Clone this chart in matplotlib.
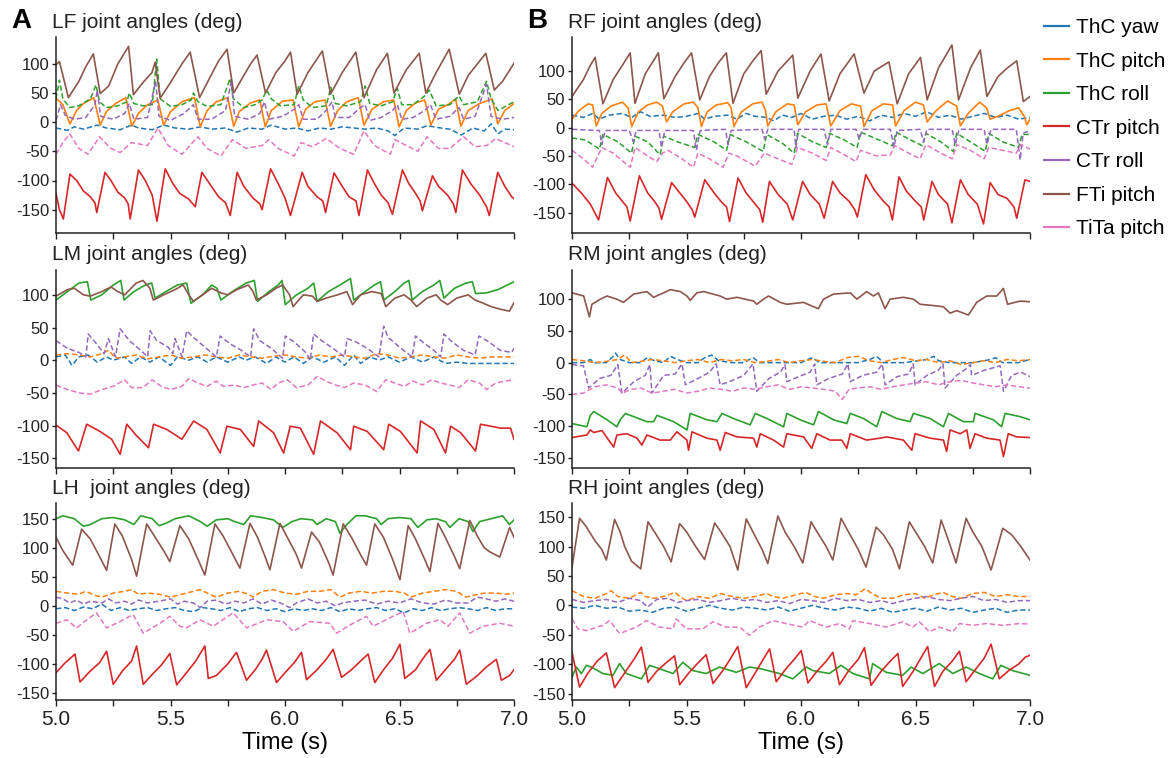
import numpy as np
import matplotlib.pyplot as plt
from matplotlib.lines import Line2D

plt.rcParams['font.family'] = ['Liberation Sans', 'DejaVu Sans']
plt.rcParams['axes.unicode_minus'] = False

names = ['ThC yaw', 'ThC pitch', 'ThC roll', 'CTr pitch', 'CTr roll', 'FTi pitch', 'TiTa pitch']
colors = ['#1f77b4', '#ff7f0e', '#2ca02c', '#d62728', '#9467bd', '#8c564b', '#e377c2']

# ---------------- LF (time s, angle deg) ----------------
lf_thc_yaw = [(5.0,-10),(5.05,-14),(5.08,-8),(5.12,-12),(5.18,-5),(5.22,-10),(5.28,-13),(5.33,-5),(5.36,-10),(5.42,-13),(5.47,-5),(5.52,-10),(5.58,-12),(5.63,-8),(5.68,-12),(5.74,-10),(5.79,-17),(5.84,-10),(5.90,-12),(5.94,-5),(6.0,-12),(6.05,-10),(6.10,-15),(6.15,-10),(6.2,-12),(6.25,-8),(6.30,-10),(6.35,-12),(6.40,-10),(6.45,-15),(6.48,-23),(6.52,-10),(6.58,-12),(6.62,-6),(6.68,-10),(6.72,-12),(6.77,-22),(6.82,-10),(6.87,-15),(6.90,-3),(6.93,-20),(6.96,-12),(7.0,-13)]
lf_thc_pitch = [(5.0,41),(5.03,30),(5.061,-3),(5.09,20),(5.12,32),(5.165,42),(5.193,-5),(5.22,18),(5.26,32),(5.305,42),(5.331,-7),(5.36,15),(5.40,30),(5.445,38),(5.470,-5),(5.50,18),(5.55,35),(5.605,42),(5.630,-8),(5.66,20),(5.70,35),(5.750,42),(5.776,-7),(5.80,18),(5.85,33),(5.89,38),(5.914,-8),(5.94,20),(5.99,36),(6.035,38),(6.060,-8),(6.09,22),(6.13,35),(6.175,38),(6.199,-7),(6.23,20),(6.27,35),(6.32,42),(6.345,-5),(6.38,22),(6.43,35),(6.475,38),(6.498,-8),(6.53,20),(6.57,33),(6.61,38),(6.637,-5),(6.67,22),(6.72,32),(6.745,40),(6.768,-7),(6.80,20),(6.85,32),(6.905,40),(6.929,-3),(6.96,20),(7.0,32)]
lf_thc_roll = [(5.0,40),(5.015,72),(5.03,40),(5.06,25),(5.10,28),(5.15,40),(5.175,64),(5.19,35),(5.22,25),(5.27,28),(5.31,35),(5.32,50),(5.34,32),(5.38,28),(5.42,30),(5.44,108),(5.455,40),(5.50,27),(5.55,30),(5.59,38),(5.60,50),(5.62,35),(5.66,27),(5.72,30),(5.76,75),(5.775,40),(5.82,25),(5.87,30),(5.90,38),(5.92,55),(5.94,40),(5.98,28),(6.04,30),(6.06,62),(6.08,38),(6.12,25),(6.18,28),(6.20,60),(6.22,32),(6.27,28),(6.33,35),(6.35,62),(6.37,32),(6.42,28),(6.47,35),(6.49,58),(6.51,30),(6.56,30),(6.61,45),(6.63,55),(6.66,28),(6.72,30),(6.76,45),(6.78,30),(6.84,35),(6.88,70),(6.90,40),(6.93,20),(7.0,35)]
lf_ctr_pitch = [(5.0,-122),(5.015,-150),(5.032,-166),(5.061,-89),(5.09,-100),(5.12,-118),(5.15,-128),(5.17,-138),(5.178,-155),(5.214,-86),(5.24,-100),(5.27,-120),(5.30,-130),(5.315,-140),(5.324,-166),(5.360,-82),(5.39,-100),(5.42,-125),(5.441,-170),(5.477,-80),(5.51,-105),(5.54,-122),(5.58,-132),(5.608,-145),(5.637,-86),(5.67,-105),(5.71,-128),(5.74,-138),(5.761,-160),(5.791,-86),(5.82,-110),(5.86,-130),(5.89,-140),(5.900,-150),(5.937,-80),(5.97,-105),(6.00,-130),(6.024,-160),(6.075,-86),(6.10,-110),(6.14,-128),(6.165,-135),(6.177,-155),(6.214,-87),(6.25,-110),(6.28,-128),(6.31,-135),(6.323,-160),(6.360,-82),(6.39,-105),(6.42,-125),(6.45,-138),(6.469,-158),(6.513,-82),(6.54,-105),(6.57,-122),(6.59,-135),(6.600,-152),(6.644,-92),(6.67,-110),(6.71,-125),(6.735,-140),(6.746,-155),(6.775,-82),(6.81,-105),(6.85,-125),(6.88,-145),(6.892,-160),(6.929,-86),(6.96,-110),(6.99,-128),(7.0,-131)]
lf_ctr_roll = [(5.0,3),(5.02,30),(5.04,12),(5.08,5),(5.13,8),(5.17,30),(5.18,55),(5.195,10),(5.25,5),(5.30,15),(5.32,32),(5.34,5),(5.40,8),(5.435,70),(5.45,10),(5.50,3),(5.56,15),(5.60,30),(5.62,5),(5.68,5),(5.74,20),(5.765,70),(5.78,10),(5.84,5),(5.89,15),(5.91,35),(5.93,5),(5.99,10),(6.04,22),(6.06,30),(6.08,5),(6.14,5),(6.18,20),(6.205,35),(6.22,8),(6.28,8),(6.33,25),(6.35,30),(6.37,3),(6.42,8),(6.47,20),(6.49,30),(6.51,5),(6.56,8),(6.61,20),(6.635,30),(6.66,5),(6.72,10),(6.76,25),(6.78,5),(6.83,10),(6.88,65),(6.90,10),(6.95,5),(7.0,8)]
lf_fti_pitch = [(5.0,98),(5.015,104),(5.054,42),(5.10,70),(5.13,95),(5.163,117),(5.193,49),(5.23,62),(5.27,100),(5.317,130),(5.338,47),(5.38,68),(5.419,85),(5.433,103),(5.455,41),(5.50,68),(5.55,100),(5.586,120),(5.627,42),(5.67,75),(5.71,105),(5.747,125),(5.776,50),(5.82,80),(5.85,100),(5.878,115),(5.915,50),(5.96,85),(6.0,105),(6.024,120),(6.053,48),(6.10,85),(6.163,122),(6.199,48),(6.25,85),(6.309,120),(6.345,42),(6.40,90),(6.447,118),(6.476,50),(6.53,90),(6.586,118),(6.615,50),(6.66,85),(6.717,125),(6.761,48),(6.80,80),(6.84,100),(6.877,118),(6.914,55),(6.95,70),(7.0,101)]
lf_tita_pitch = [(5.0,-55),(5.03,-35),(5.06,-20),(5.10,-45),(5.14,-55),(5.19,-25),(5.24,-45),(5.28,-52),(5.33,-35),(5.40,-40),(5.445,-10),(5.49,-40),(5.55,-55),(5.62,-25),(5.66,-45),(5.72,-58),(5.77,-30),(5.83,-45),(5.90,-40),(5.93,-30),(5.97,-45),(6.04,-58),(6.07,-35),(6.12,-42),(6.18,-28),(6.24,-45),(6.30,-55),(6.345,-15),(6.39,-40),(6.46,-55),(6.48,-30),(6.53,-40),(6.58,-50),(6.62,-25),(6.67,-45),(6.72,-45),(6.78,-25),(6.83,-42),(6.88,-40),(6.92,-28),(6.96,-35),(7.0,-42)]

# ---------------- RF ----------------
rf_thc_yaw = [(5.0,22),(5.05,18),(5.09,25),(5.12,15),(5.16,22),(5.22,25),(5.26,18),(5.30,28),(5.34,20),(5.40,22),(5.45,18),(5.50,20),(5.55,25),(5.58,15),(5.62,20),(5.68,22),(5.72,15),(5.76,25),(5.80,20),(5.85,18),(5.88,12),(5.92,22),(5.96,18),(6.00,25),(6.05,15),(6.10,20),(6.15,22),(6.20,15),(6.25,20),(6.30,12),(6.35,22),(6.40,18),(6.45,25),(6.50,20),(6.55,28),(6.60,18),(6.65,22),(6.70,15),(6.75,20),(6.80,25),(6.85,18),(6.90,22),(6.95,15),(7.0,18)]
rf_thc_pitch = [(5.0,15),(5.03,30),(5.07,42),(5.09,40),(5.106,3),(5.13,25),(5.17,38),(5.22,45),(5.245,35),(5.261,2),(5.29,28),(5.33,40),(5.37,45),(5.395,38),(5.413,10),(5.44,28),(5.49,42),(5.53,45),(5.55,35),(5.565,2),(5.59,28),(5.63,40),(5.68,44),(5.695,35),(5.707,2),(5.74,28),(5.79,42),(5.83,45),(5.845,30),(5.855,3),(5.89,28),(5.94,42),(5.97,40),(5.986,5),(6.02,28),(6.07,40),(6.11,42),(6.13,3),(6.17,30),(6.22,42),(6.26,38),(6.275,2),(6.31,30),(6.36,42),(6.40,40),(6.413,3),(6.45,30),(6.50,45),(6.535,40),(6.551,10),(6.59,30),(6.64,47),(6.68,38),(6.696,3),(6.73,25),(6.78,45),(6.81,35),(6.826,15),(6.86,20),(6.91,30),(6.95,35),(6.975,20),(6.986,5),(7.0,15)]
rf_thc_roll = [(5.0,-18),(5.06,-22),(5.12,-38),(5.135,-12),(5.20,-25),(5.26,-45),(5.275,-15),(5.33,-25),(5.385,-48),(5.40,-15),(5.46,-25),(5.535,-35),(5.55,-12),(5.62,-25),(5.675,-40),(5.69,-12),(5.76,-25),(5.835,-42),(5.85,-12),(5.92,-28),(5.97,-45),(5.985,-10),(6.05,-25),(6.11,-35),(6.125,-10),(6.19,-22),(6.245,-35),(6.26,-8),(6.33,-20),(6.40,-32),(6.415,-8),(6.47,-20),(6.53,-32),(6.545,-10),(6.61,-25),(6.665,-42),(6.68,-10),(6.74,-25),(6.805,-42),(6.82,-10),(6.88,-25),(6.95,-35),(6.965,-12),(7.0,-12)]
rf_ctr_pitch = [(5.0,-98),(5.04,-115),(5.08,-135),(5.116,-163),(5.155,-88),(5.19,-115),(5.22,-130),(5.24,-140),(5.254,-165),(5.294,-85),(5.33,-115),(5.36,-130),(5.38,-142),(5.391,-162),(5.435,-97),(5.47,-115),(5.50,-130),(5.525,-145),(5.536,-158),(5.580,-92),(5.62,-115),(5.65,-130),(5.675,-140),(5.688,-166),(5.725,-89),(5.76,-115),(5.80,-135),(5.82,-145),(5.833,-167),(5.862,-95),(5.90,-118),(5.94,-135),(5.964,-163),(6.007,-95),(6.04,-118),(6.08,-135),(6.101,-160),(6.138,-95),(6.17,-115),(6.21,-130),(6.235,-145),(6.246,-158),(6.283,-83),(6.32,-110),(6.36,-130),(6.385,-140),(6.399,-163),(6.428,-87),(6.46,-112),(6.50,-130),(6.525,-140),(6.536,-163),(6.572,-95),(6.60,-118),(6.64,-135),(6.659,-168),(6.696,-92),(6.73,-118),(6.77,-135),(6.797,-170),(6.826,-97),(6.86,-118),(6.90,-125),(6.93,-140),(6.942,-160),(6.978,-92),(7.0,-95)]
rf_ctr_roll = [(5.0,-3),(5.12,-5),(5.13,-30),(5.145,-5),(5.25,-5),(5.268,-25),(5.28,-5),(5.38,-5),(5.391,-35),(5.405,-5),(5.53,-5),(5.543,-40),(5.56,-5),(5.67,-3),(5.681,-30),(5.695,-5),(5.83,-3),(5.841,-20),(5.855,-3),(5.97,-3),(5.978,-35),(5.99,-3),(6.10,-3),(6.116,-30),(6.13,-3),(6.24,-3),(6.254,-20),(6.27,-3),(6.39,-3),(6.406,-35),(6.42,-5),(6.52,-3),(6.536,-25),(6.55,-3),(6.66,-3),(6.674,-30),(6.69,-3),(6.80,-3),(6.812,-30),(6.83,-3),(6.94,-3),(6.957,-57),(6.97,-10),(7.0,-5)]
rf_fti_pitch = [(5.0,55),(5.05,85),(5.08,110),(5.101,124),(5.135,42),(5.18,85),(5.22,110),(5.254,132),(5.275,43),(5.32,95),(5.377,132),(5.401,51),(5.45,90),(5.49,115),(5.522,132),(5.558,49),(5.60,90),(5.64,115),(5.674,132),(5.703,43),(5.75,95),(5.79,118),(5.826,136),(5.848,59),(5.90,100),(5.964,128),(5.986,52),(6.04,100),(6.087,130),(6.123,47),(6.17,95),(6.232,130),(6.275,61),(6.32,100),(6.384,116),(6.420,42),(6.47,95),(6.522,124),(6.551,49),(6.60,105),(6.659,146),(6.688,49),(6.74,105),(6.783,137),(6.812,55),(6.86,90),(6.90,105),(6.942,118),(6.971,46),(7.0,55)]
rf_tita_pitch = [(5.0,-40),(5.05,-55),(5.09,-70),(5.13,-35),(5.18,-45),(5.23,-62),(5.255,-70),(5.275,-35),(5.33,-50),(5.37,-60),(5.395,-45),(5.42,-40),(5.48,-55),(5.53,-70),(5.55,-45),(5.60,-55),(5.66,-70),(5.685,-45),(5.72,-50),(5.80,-68),(5.84,-45),(5.90,-55),(5.96,-65),(5.985,-35),(6.05,-45),(6.11,-58),(6.13,-35),(6.19,-48),(6.24,-60),(6.26,-40),(6.33,-50),(6.39,-48),(6.41,-32),(6.47,-45),(6.52,-55),(6.545,-30),(6.61,-45),(6.66,-55),(6.68,-30),(6.74,-40),(6.80,-55),(6.82,-35),(6.88,-40),(6.94,-45),(6.96,-30),(7.0,-38)]

# ---------------- LM ----------------
lm_thc_yaw = [(5.0,5),(5.04,8),(5.07,-8),(5.10,5),(5.14,8),(5.18,-3),(5.22,5),(5.25,0),(5.30,5),(5.33,-5),(5.37,5),(5.41,-3),(5.45,5),(5.50,-8),(5.53,5),(5.58,0),(5.62,5),(5.66,-3),(5.70,5),(5.75,-3),(5.80,5),(5.83,0),(5.87,5),(5.92,-5),(5.96,5),(6.00,-3),(6.04,5),(6.08,-5),(6.12,5),(6.17,-3),(6.22,5),(6.26,-8),(6.30,8),(6.33,-5),(6.37,5),(6.41,0),(6.45,5),(6.50,-3),(6.55,5),(6.60,-3),(6.65,5),(6.70,-5),(6.75,-3),(6.80,-5),(6.85,-5),(6.90,-5),(6.95,-5),(7.0,-5)]
lm_thc_pitch = [(5.0,8),(5.05,10),(5.10,8),(5.15,5),(5.20,10),(5.23,15),(5.26,3),(5.30,5),(5.35,8),(5.40,2),(5.45,5),(5.50,8),(5.55,3),(5.60,5),(5.65,8),(5.70,5),(5.75,3),(5.80,8),(5.85,5),(5.90,3),(5.95,6),(6.00,8),(6.05,5),(6.10,3),(6.15,8),(6.20,5),(6.25,8),(6.30,5),(6.35,3),(6.40,10),(6.45,8),(6.50,3),(6.55,5),(6.60,8),(6.65,5),(6.70,3),(6.75,8),(6.80,5),(6.85,3),(6.90,5),(6.95,5),(7.0,5)]
lm_thc_roll = [(5.0,92),(5.05,105),(5.10,118),(5.137,120),(5.152,92),(5.20,100),(5.25,115),(5.283,122),(5.297,92),(5.34,105),(5.39,115),(5.418,118),(5.433,95),(5.48,105),(5.53,115),(5.571,118),(5.589,87),(5.64,100),(5.68,115),(5.703,110),(5.720,92),(5.77,105),(5.83,118),(5.866,122),(5.880,90),(5.93,105),(5.97,115),(5.987,122),(6.001,85),(6.05,100),(6.10,110),(6.125,118),(6.140,90),(6.19,105),(6.24,115),(6.286,125),(6.300,92),(6.35,105),(6.39,115),(6.417,120),(6.431,92),(6.48,105),(6.52,118),(6.541,122),(6.555,92),(6.60,105),(6.65,115),(6.676,122),(6.694,95),(6.74,110),(6.79,118),(6.818,120),(6.832,102),(6.88,103),(6.93,108),(7.0,120)]
lm_ctr_pitch = [(5.003,-100),(5.047,-111),(5.098,-139),(5.134,-98),(5.192,-109),(5.243,-121),(5.280,-144),(5.309,-98),(5.353,-116),(5.404,-134),(5.426,-98),(5.484,-106),(5.550,-121),(5.601,-93),(5.659,-106),(5.717,-142),(5.746,-101),(5.805,-106),(5.863,-132),(5.885,-93),(5.950,-111),(5.994,-142),(6.023,-101),(6.067,-104),(6.125,-144),(6.155,-93),(6.227,-111),(6.286,-137),(6.300,-101),(6.359,-109),(6.431,-137),(6.453,-98),(6.504,-109),(6.577,-142),(6.592,-93),(6.650,-106),(6.701,-142),(6.723,-101),(6.767,-111),(6.832,-139),(6.854,-98),(6.942,-104),(6.985,-104),(7.0,-121)]
lm_ctr_roll = [(5.0,30),(5.05,18),(5.10,12),(5.13,5),(5.141,40),(5.17,28),(5.21,10),(5.229,33),(5.26,5),(5.280,48),(5.32,30),(5.37,15),(5.40,5),(5.411,45),(5.44,30),(5.49,20),(5.51,10),(5.520,33),(5.55,5),(5.571,45),(5.60,35),(5.65,20),(5.70,5),(5.717,37),(5.76,25),(5.81,15),(5.85,5),(5.863,48),(5.89,30),(5.94,18),(5.99,3),(6.001,37),(6.04,28),(6.09,12),(6.11,0),(6.125,40),(6.16,30),(6.21,18),(6.26,5),(6.271,33),(6.31,28),(6.36,18),(6.41,5),(6.431,52),(6.45,35),(6.50,20),(6.555,5),(6.570,37),(6.60,28),(6.65,15),(6.68,5),(6.694,40),(6.73,28),(6.78,15),(6.83,8),(6.847,37),(6.89,28),(6.94,15),(6.99,12),(7.0,18)]
lm_fti_pitch = [(5.0,98),(5.05,108),(5.08,110),(5.12,100),(5.15,98),(5.20,105),(5.24,112),(5.27,105),(5.30,100),(5.35,118),(5.38,122),(5.41,110),(5.425,92),(5.47,100),(5.52,108),(5.555,115),(5.58,100),(5.60,90),(5.64,100),(5.68,110),(5.72,103),(5.75,100),(5.79,108),(5.84,115),(5.86,105),(5.875,92),(5.92,100),(5.96,110),(5.99,115),(6.02,100),(6.035,82),(6.08,100),(6.12,98),(6.14,90),(6.18,95),(6.23,100),(6.27,105),(6.295,85),(6.33,100),(6.38,105),(6.42,102),(6.44,82),(6.48,95),(6.52,100),(6.55,92),(6.575,82),(6.62,95),(6.66,100),(6.68,92),(6.71,85),(6.75,95),(6.80,100),(6.83,92),(6.86,88),(6.90,82),(6.94,78),(6.98,75),(7.0,88)]
lm_tita_pitch = [(5.0,-38),(5.05,-45),(5.10,-50),(5.15,-52),(5.20,-45),(5.25,-40),(5.30,-30),(5.33,-42),(5.38,-42),(5.42,-30),(5.46,-40),(5.50,-45),(5.55,-40),(5.58,-28),(5.62,-35),(5.66,-40),(5.70,-32),(5.73,-40),(5.78,-38),(5.82,-42),(5.86,-38),(5.90,-35),(5.94,-45),(5.97,-35),(6.01,-30),(6.05,-42),(6.10,-38),(6.14,-25),(6.18,-32),(6.22,-38),(6.26,-42),(6.30,-35),(6.35,-38),(6.40,-48),(6.44,-30),(6.48,-35),(6.52,-40),(6.56,-32),(6.60,-38),(6.64,-30),(6.68,-35),(6.72,-38),(6.76,-42),(6.80,-30),(6.85,-35),(6.88,-45),(6.92,-35),(6.96,-32),(7.0,-30)]

# ---------------- RM ----------------
rm_thc_yaw = [(5.0,0),(5.05,0),(5.08,5),(5.10,0),(5.15,0),(5.18,10),(5.19,15),(5.21,5),(5.25,0),(5.30,0),(5.33,8),(5.36,3),(5.40,0),(5.43,10),(5.46,5),(5.50,0),(5.55,0),(5.58,8),(5.61,12),(5.64,3),(5.70,0),(5.75,0),(5.79,8),(5.82,0),(5.90,0),(5.95,0),(6.00,0),(6.03,5),(6.05,8),(6.08,0),(6.15,0),(6.20,0),(6.25,0),(6.30,5),(6.33,10),(6.36,0),(6.40,0),(6.45,0),(6.55,5),(6.58,10),(6.60,3),(6.65,0),(6.70,0),(6.75,0),(6.83,5),(6.85,8),(6.88,0),(6.95,0),(7.0,5)]
rm_thc_pitch = [(5.0,5),(5.05,3),(5.10,0),(5.15,2),(5.20,5),(5.23,12),(5.26,0),(5.30,2),(5.35,5),(5.40,3),(5.45,0),(5.50,3),(5.55,5),(5.60,0),(5.65,5),(5.70,3),(5.75,5),(5.80,0),(5.85,2),(5.90,5),(5.95,0),(6.00,3),(6.05,5),(6.10,2),(6.15,0),(6.20,8),(6.25,10),(6.30,3),(6.35,0),(6.40,5),(6.45,8),(6.50,3),(6.55,5),(6.60,0),(6.65,3),(6.70,-3),(6.75,0),(6.80,3),(6.85,0),(6.90,5),(6.95,3),(7.0,5)]
rm_thc_roll = [(5.0,-96),(5.065,-101),(5.080,-83),(5.095,-77),(5.153,-90),(5.196,-101),(5.211,-90),(5.233,-80),(5.269,-85),(5.327,-93),(5.356,-93),(5.371,-83),(5.444,-93),(5.502,-106),(5.516,-80),(5.589,-90),(5.633,-93),(5.655,-80),(5.705,-88),(5.778,-98),(5.800,-80),(5.851,-88),(5.924,-101),(5.938,-80),(5.996,-90),(6.055,-98),(6.076,-77),(6.142,-90),(6.200,-96),(6.215,-80),(6.273,-88),(6.331,-101),(6.353,-77),(6.418,-88),(6.476,-93),(6.491,-80),(6.564,-88),(6.622,-101),(6.644,-80),(6.709,-93),(6.753,-93),(6.760,-80),(6.840,-90),(6.876,-101),(6.891,-80),(6.956,-85),(7.0,-90)]
rm_ctr_pitch = [(5.0,-118),(5.065,-114),(5.080,-106),(5.095,-110),(5.131,-107),(5.160,-122),(5.182,-133),(5.196,-114),(5.240,-112),(5.284,-119),(5.305,-130),(5.327,-114),(5.385,-122),(5.429,-122),(5.458,-109),(5.502,-122),(5.509,-138),(5.524,-109),(5.589,-119),(5.633,-122),(5.647,-138),(5.669,-110),(5.720,-117),(5.793,-119),(5.807,-133),(5.822,-112),(5.880,-122),(5.924,-133),(5.938,-112),(6.011,-117),(6.047,-135),(6.069,-112),(6.127,-122),(6.178,-122),(6.200,-135),(6.215,-112),(6.287,-122),(6.345,-119),(6.375,-117),(6.447,-122),(6.484,-138),(6.498,-112),(6.564,-119),(6.622,-122),(6.636,-140),(6.651,-106),(6.695,-112),(6.724,-106),(6.738,-135),(6.760,-112),(6.811,-119),(6.869,-122),(6.884,-148),(6.905,-112),(6.942,-117),(7.0,-118)]
rm_ctr_roll = [(5.0,-3),(5.05,-5),(5.073,-40),(5.12,-25),(5.17,-20),(5.20,-3),(5.218,-48),(5.27,-30),(5.32,-20),(5.34,-3),(5.349,-48),(5.40,-20),(5.45,-18),(5.48,-2),(5.495,-35),(5.55,-25),(5.60,-15),(5.63,-2),(5.647,-35),(5.70,-28),(5.75,-20),(5.79,-2),(5.807,-45),(5.86,-25),(5.91,-15),(5.93,-3),(5.938,-30),(5.99,-22),(6.04,-15),(6.06,-2),(6.069,-35),(6.12,-25),(6.18,-18),(6.205,-2),(6.215,-30),(6.27,-20),(6.33,-15),(6.355,-2),(6.367,-35),(6.42,-22),(6.47,-18),(6.49,-2),(6.498,-35),(6.55,-20),(6.60,-12),(6.62,-2),(6.629,-40),(6.68,-20),(6.72,-10),(6.74,-3),(6.745,-20),(6.80,-12),(6.87,-5),(6.884,-45),(6.92,-20),(6.96,-15),(7.0,-22)]
rm_fti_pitch = [(5.0,110),(5.051,105),(5.076,72),(5.087,92),(5.124,100),(5.153,105),(5.196,100),(5.225,95),(5.269,108),(5.327,112),(5.356,103),(5.400,110),(5.429,115),(5.473,112),(5.502,105),(5.516,98),(5.545,110),(5.575,112),(5.647,105),(5.676,100),(5.720,103),(5.793,97),(5.807,92),(5.836,100),(5.858,105),(5.909,95),(5.938,92),(6.011,95),(6.055,88),(6.076,85),(6.098,100),(6.142,108),(6.215,110),(6.244,100),(6.287,112),(6.316,105),(6.338,110),(6.367,85),(6.389,100),(6.447,103),(6.491,100),(6.520,92),(6.578,90),(6.622,88),(6.651,78),(6.680,82),(6.731,75),(6.767,95),(6.811,105),(6.855,105),(6.884,117),(6.902,92),(6.956,97),(7.0,96)]
rm_tita_pitch = [(5.0,-50),(5.05,-48),(5.10,-38),(5.15,-35),(5.20,-40),(5.22,-48),(5.26,-42),(5.30,-40),(5.35,-48),(5.40,-45),(5.45,-42),(5.50,-48),(5.55,-45),(5.60,-40),(5.65,-42),(5.70,-45),(5.75,-40),(5.80,-42),(5.85,-38),(5.90,-35),(5.95,-42),(6.00,-38),(6.05,-40),(6.10,-42),(6.15,-45),(6.18,-58),(6.21,-42),(6.25,-40),(6.30,-38),(6.35,-42),(6.40,-38),(6.45,-35),(6.50,-32),(6.55,-30),(6.60,-35),(6.65,-30),(6.70,-28),(6.75,-32),(6.80,-35),(6.85,-38),(6.90,-35),(6.95,-38),(7.0,-40)]

# ---------------- LH ----------------
lh_thc_yaw = [(5.0,-5),(5.04,-3),(5.08,-8),(5.12,-2),(5.16,-5),(5.20,3),(5.24,-8),(5.28,-3),(5.32,-8),(5.36,-5),(5.40,-3),(5.44,-8),(5.48,-5),(5.52,-3),(5.56,-8),(5.60,-10),(5.64,-3),(5.68,-5),(5.72,-8),(5.76,-3),(5.80,-10),(5.84,-5),(5.88,-3),(5.92,-8),(5.96,-5),(6.00,-10),(6.04,-5),(6.08,-8),(6.12,-5),(6.16,-8),(6.20,-3),(6.24,-10),(6.28,-5),(6.32,-8),(6.36,-5),(6.40,-3),(6.44,-8),(6.48,-5),(6.52,-12),(6.56,-5),(6.60,-8),(6.64,-3),(6.68,-8),(6.72,-5),(6.76,-3),(6.80,-5),(6.84,-8),(6.88,-3),(6.92,-8),(6.96,-5),(7.0,-5)]
lh_thc_pitch = [(5.0,25),(5.05,22),(5.10,20),(5.13,25),(5.17,18),(5.20,15),(5.25,22),(5.30,25),(5.33,28),(5.36,20),(5.40,22),(5.45,20),(5.50,15),(5.55,20),(5.60,25),(5.63,28),(5.67,20),(5.70,15),(5.75,22),(5.80,25),(5.84,20),(5.86,15),(5.90,25),(5.95,28),(6.00,22),(6.05,20),(6.10,25),(6.15,25),(6.20,28),(6.24,15),(6.28,22),(6.33,25),(6.38,22),(6.43,25),(6.48,25),(6.52,22),(6.55,15),(6.60,22),(6.65,25),(6.70,28),(6.75,25),(6.79,15),(6.82,18),(6.87,22),(6.92,22),(6.97,20),(7.0,22)]
lh_thc_roll = [(5.0,150),(5.03,155),(5.08,150),(5.12,137),(5.15,140),(5.20,150),(5.25,152),(5.30,148),(5.34,140),(5.37,155),(5.42,150),(5.45,138),(5.48,142),(5.52,150),(5.58,155),(5.63,145),(5.66,137),(5.70,148),(5.75,150),(5.78,145),(5.82,140),(5.85,155),(5.90,152),(5.95,148),(5.99,135),(6.03,145),(6.07,150),(6.12,148),(6.14,140),(6.18,150),(6.22,145),(6.24,125),(6.27,140),(6.31,155),(6.35,155),(6.40,150),(6.42,140),(6.45,150),(6.50,152),(6.55,150),(6.58,135),(6.62,148),(6.66,150),(6.70,145),(6.72,135),(6.76,150),(6.80,145),(6.82,128),(6.85,145),(6.90,150),(6.95,155),(6.98,140),(7.0,148)]
lh_ctr_pitch = [(5.0,-115),(5.04,-98),(5.083,-83),(5.105,-131),(5.15,-112),(5.19,-98),(5.221,-78),(5.250,-135),(5.29,-112),(5.33,-95),(5.352,-69),(5.381,-135),(5.42,-118),(5.46,-102),(5.497,-82),(5.527,-136),(5.57,-115),(5.61,-95),(5.650,-69),(5.665,-125),(5.70,-120),(5.75,-100),(5.788,-80),(5.832,-128),(5.87,-110),(5.90,-92),(5.919,-76),(5.963,-132),(6.00,-115),(6.04,-98),(6.072,-80),(6.094,-127),(6.14,-110),(6.18,-92),(6.210,-75),(6.247,-123),(6.29,-110),(6.33,-95),(6.363,-83),(6.392,-132),(6.43,-110),(6.47,-90),(6.502,-66),(6.523,-125),(6.57,-110),(6.60,-92),(6.633,-75),(6.661,-128),(6.70,-110),(6.74,-92),(6.763,-76),(6.792,-135),(6.84,-120),(6.88,-105),(6.923,-92),(6.945,-128),(6.98,-120),(7.0,-110)]
lh_ctr_roll = [(5.0,15),(5.03,12),(5.06,5),(5.09,10),(5.12,3),(5.15,8),(5.20,5),(5.23,12),(5.26,5),(5.30,8),(5.33,3),(5.36,10),(5.40,5),(5.45,8),(5.50,12),(5.53,3),(5.56,8),(5.60,5),(5.63,-3),(5.66,8),(5.70,10),(5.74,3),(5.78,8),(5.82,5),(5.86,12),(5.90,3),(5.94,10),(5.98,5),(6.02,-3),(6.05,5),(6.10,12),(6.14,5),(6.18,8),(6.22,0),(6.25,5),(6.30,8),(6.35,10),(6.40,3),(6.45,8),(6.50,5),(6.55,12),(6.60,5),(6.65,3),(6.70,10),(6.75,5),(6.80,5),(6.84,15),(6.88,12),(6.92,8),(6.96,12),(7.0,8)]
lh_fti_pitch = [(5.0,118),(5.03,95),(5.073,70),(5.112,132),(5.15,115),(5.19,85),(5.221,61),(5.257,141),(5.29,120),(5.33,80),(5.352,51),(5.396,141),(5.43,120),(5.47,95),(5.497,76),(5.541,138),(5.58,115),(5.62,80),(5.650,53),(5.694,141),(5.73,120),(5.77,90),(5.803,65),(5.847,142),(5.88,118),(5.91,88),(5.934,62),(5.978,142),(6.01,118),(6.05,88),(6.072,65),(6.116,127),(6.15,110),(6.19,75),(6.210,53),(6.254,141),(6.29,118),(6.33,88),(6.356,70),(6.392,141),(6.43,118),(6.47,80),(6.502,45),(6.538,138),(6.57,115),(6.61,80),(6.633,59),(6.668,142),(6.70,118),(6.74,85),(6.763,64),(6.807,147),(6.84,120),(6.87,100),(6.894,93),(6.938,84),(6.981,135),(7.0,118)]
lh_tita_pitch = [(5.0,-30),(5.047,-24),(5.090,-38),(5.134,-24),(5.177,-12),(5.221,-38),(5.279,-27),(5.337,-15),(5.381,-47),(5.454,-30),(5.497,-18),(5.541,-35),(5.570,-38),(5.628,-24),(5.687,-35),(5.774,-12),(5.832,-38),(5.919,-24),(5.992,-27),(6.036,-44),(6.108,-27),(6.196,-30),(6.225,-47),(6.297,-30),(6.356,-18),(6.385,-35),(6.472,-18),(6.516,-10),(6.545,-47),(6.618,-30),(6.676,-24),(6.712,-35),(6.763,-12),(6.807,-47),(6.865,-35),(6.938,-30),(7.0,-35)]

# ---------------- RH ----------------
rh_thc_yaw = [(5.0,-3),(5.05,-5),(5.10,0),(5.15,-5),(5.20,-3),(5.25,-10),(5.30,-8),(5.35,-12),(5.40,-5),(5.45,-3),(5.50,-10),(5.55,-5),(5.60,0),(5.65,-5),(5.70,-8),(5.75,-3),(5.80,-5),(5.85,-8),(5.90,-3),(5.95,-10),(6.00,-5),(6.05,0),(6.10,-5),(6.15,-8),(6.20,-3),(6.25,-5),(6.30,-10),(6.35,-5),(6.40,-12),(6.45,-8),(6.50,-5),(6.55,-10),(6.60,-3),(6.65,-8),(6.70,-5),(6.75,-12),(6.80,-8),(6.85,-5),(6.90,-12),(6.95,-8),(7.0,-8)]
rh_thc_pitch = [(5.0,25),(5.05,15),(5.10,12),(5.15,20),(5.17,25),(5.20,15),(5.25,12),(5.30,22),(5.32,15),(5.36,12),(5.40,15),(5.45,22),(5.47,15),(5.50,8),(5.55,15),(5.60,12),(5.65,20),(5.70,15),(5.75,12),(5.80,15),(5.85,20),(5.88,15),(5.92,12),(5.98,18),(6.02,22),(6.06,15),(6.10,12),(6.15,18),(6.20,20),(6.24,18),(6.28,28),(6.31,20),(6.35,12),(6.40,12),(6.45,18),(6.50,20),(6.54,12),(6.58,18),(6.62,22),(6.66,15),(6.70,12),(6.75,20),(6.80,22),(6.85,15),(6.90,18),(6.95,15),(7.0,15)]
rh_thc_roll = [(5.0,-122),(5.019,-105),(5.041,-116),(5.063,-102),(5.084,-105),(5.135,-116),(5.179,-119),(5.208,-99),(5.237,-116),(5.303,-125),(5.339,-102),(5.383,-108),(5.441,-116),(5.484,-97),(5.528,-111),(5.586,-116),(5.644,-105),(5.717,-114),(5.775,-105),(5.826,-108),(5.906,-116),(5.964,-125),(6.023,-105),(6.052,-111),(6.124,-116),(6.175,-102),(6.226,-116),(6.299,-125),(6.313,-99),(6.372,-114),(6.444,-119),(6.481,-105),(6.532,-116),(6.604,-99),(6.663,-116),(6.721,-105),(6.779,-116),(6.837,-125),(6.873,-102),(6.924,-111),(7.0,-119)]
rh_ctr_pitch = [(5.0,-80),(5.033,-139),(5.07,-115),(5.11,-95),(5.150,-81),(5.186,-140),(5.23,-115),(5.27,-92),(5.303,-71),(5.332,-131),(5.37,-112),(5.41,-98),(5.448,-86),(5.470,-135),(5.51,-115),(5.55,-98),(5.586,-84),(5.616,-133),(5.66,-110),(5.69,-92),(5.724,-70),(5.761,-140),(5.80,-115),(5.83,-95),(5.863,-74),(5.892,-130),(5.93,-110),(5.97,-92),(6.001,-77),(6.030,-132),(6.07,-112),(6.11,-95),(6.139,-80),(6.168,-135),(6.21,-110),(6.25,-92),(6.277,-72),(6.306,-136),(6.35,-112),(6.39,-95),(6.423,-82),(6.444,-138),(6.49,-112),(6.52,-92),(6.553,-70),(6.583,-138),(6.62,-112),(6.66,-95),(6.692,-78),(6.721,-130),(6.76,-110),(6.80,-90),(6.830,-66),(6.866,-125),(6.91,-110),(6.95,-100),(6.98,-88),(7.0,-85)]
rh_ctr_roll = [(5.0,10),(5.05,5),(5.10,8),(5.15,10),(5.20,5),(5.25,12),(5.30,8),(5.33,-3),(5.37,10),(5.42,12),(5.46,5),(5.50,8),(5.55,10),(5.60,5),(5.65,8),(5.70,12),(5.75,8),(5.80,10),(5.85,5),(5.90,8),(5.95,3),(6.00,10),(6.05,8),(6.10,5),(6.15,12),(6.20,8),(6.25,10),(6.30,5),(6.35,8),(6.40,3),(6.45,8),(6.50,12),(6.55,15),(6.60,10),(6.65,8),(6.70,12),(6.75,15),(6.80,8),(6.85,10),(6.90,5),(6.95,8),(7.0,8)]
rh_fti_pitch = [(5.0,65),(5.033,148),(5.06,135),(5.10,110),(5.130,95),(5.150,77),(5.186,146),(5.21,125),(5.23,100),(5.26,75),(5.30,62),(5.332,142),(5.36,125),(5.40,100),(5.433,74),(5.470,139),(5.50,125),(5.54,100),(5.579,78),(5.623,140),(5.65,125),(5.69,100),(5.724,60),(5.761,147),(5.79,125),(5.83,95),(5.855,71),(5.899,152),(5.93,125),(5.97,100),(6.008,72),(6.044,142),(6.07,125),(6.11,100),(6.139,77),(6.175,148),(6.20,130),(6.25,95),(6.284,65),(6.328,133),(6.36,120),(6.40,95),(6.430,62),(6.473,142),(6.50,125),(6.54,100),(6.575,72),(6.612,145),(6.64,115),(6.677,72),(6.721,148),(6.75,125),(6.79,100),(6.830,60),(6.881,131),(6.92,120),(6.96,100),(7.0,77)]
rh_tita_pitch = [(5.0,-23),(5.026,-40),(5.063,-43),(5.135,-34),(5.164,-26),(5.208,-48),(5.281,-37),(5.324,-26),(5.383,-37),(5.441,-40),(5.455,-23),(5.499,-40),(5.572,-40),(5.615,-28),(5.673,-37),(5.732,-37),(5.775,-51),(5.819,-37),(5.877,-26),(5.935,-31),(6.008,-37),(6.037,-26),(6.110,-37),(6.168,-31),(6.212,-40),(6.226,-26),(6.299,-31),(6.372,-37),(6.444,-28),(6.488,-37),(6.517,-28),(6.561,-45),(6.604,-37),(6.663,-45),(6.692,-31),(6.750,-34),(6.808,-31),(6.881,-34),(6.953,-31),(7.0,-32)]

lf = [lf_thc_yaw, lf_thc_pitch, lf_thc_roll, lf_ctr_pitch, lf_ctr_roll, lf_fti_pitch, lf_tita_pitch]
rf = [rf_thc_yaw, rf_thc_pitch, rf_thc_roll, rf_ctr_pitch, rf_ctr_roll, rf_fti_pitch, rf_tita_pitch]
lm = [lm_thc_yaw, lm_thc_pitch, lm_thc_roll, lm_ctr_pitch, lm_ctr_roll, lm_fti_pitch, lm_tita_pitch]
rm = [rm_thc_yaw, rm_thc_pitch, rm_thc_roll, rm_ctr_pitch, rm_ctr_roll, rm_fti_pitch, rm_tita_pitch]
lh = [lh_thc_yaw, lh_thc_pitch, lh_thc_roll, lh_ctr_pitch, lh_ctr_roll, lh_fti_pitch, lh_tita_pitch]
rh = [rh_thc_yaw, rh_thc_pitch, rh_thc_roll, rh_ctr_pitch, rh_ctr_roll, rh_fti_pitch, rh_tita_pitch]

front_solid = ['ThC pitch', 'CTr pitch', 'FTi pitch']
other_solid = ['ThC roll', 'CTr pitch', 'FTi pitch']

W, H = 1173, 758
fig = plt.figure(figsize=(W / 100, H / 100), dpi=100)

# (data, title, solid set, left px, top px, bottom px, ylim, yticks, bottom row)
panels = [
    (lf, 'LF joint angles (deg)', front_solid, 56, 37, 233, (-190, 146), range(-150, 101, 50), False),
    (rf, 'RF joint angles (deg)', front_solid, 572, 37, 233, (-186, 160), range(-150, 101, 50), False),
    (lm, 'LM joint angles (deg)', other_solid, 56, 270, 468, (-165, 138), range(-150, 101, 50), False),
    (rm, 'RM joint angles (deg)', other_solid, 572, 270, 468, (-166, 146), range(-150, 101, 50), False),
    (lh, 'LH  joint angles (deg)', other_solid, 56, 503, 700, (-162, 177), range(-150, 151, 50), True),
    (rh, 'RH joint angles (deg)', other_solid, 572, 503, 700, (-161, 174), range(-150, 151, 50), True),
]

for data, title, solid, left, top, bottom, ylim, yticks, last in panels:
    ax = fig.add_axes([left / W, 1 - bottom / H, 458 / W, (bottom - top) / H])
    for name, col, pts in zip(names, colors, data):
        arr = np.array(pts, dtype=float)
        if name in solid:
            ax.plot(arr[:, 0], arr[:, 1], color=col, lw=1.2)
        else:
            ax.plot(arr[:, 0], arr[:, 1], color=col, lw=1.1, dashes=(3.5, 1.8))
    ax.set_xlim(5.0, 7.0)
    ax.set_ylim(*ylim)
    ax.set_yticks(list(yticks))
    ax.set_xticks(np.arange(5.0, 7.01, 0.5))
    ax.set_xticks(np.arange(5.25, 7.0, 0.5), minor=True)
    for s in ['top', 'right']:
        ax.spines[s].set_visible(False)
    for s in ['left', 'bottom']:
        ax.spines[s].set_linewidth(1.1)
        ax.spines[s].set_color('#222222')
    ax.tick_params(axis='y', labelsize=12, length=3, pad=2, width=1, colors='#222222')
    ax.tick_params(axis='x', which='both', length=4, width=1, colors='#222222', labelsize=15, pad=3)
    if last:
        ax.set_xlabel('Time (s)', fontsize=17, labelpad=2)
        ax.set_xticklabels(['5.0', '5.5', '6.0', '6.5', '7.0'])
    else:
        ax.set_xticklabels([])
    fig.text((left - 4) / W, 1 - (top - 15) / H, title, fontsize=15, va='center', ha='left', color='#222222')

fig.text(11 / W, 1 - 21 / H, 'A', fontsize=20, fontweight='bold', va='center', ha='left')
fig.text(527 / W, 1 - 21 / H, 'B', fontsize=20, fontweight='bold', va='center', ha='left')

handles = [Line2D([], [], color=c, lw=1.6) for c in colors]
fig.legend(handles, names, loc='upper left', bbox_to_anchor=(1044 / W, 1 - 18 / H),
           frameon=False, fontsize=15, handlelength=1.2, handletextpad=0.35,
           labelspacing=0.7, borderpad=0, borderaxespad=0)

fig.savefig('out.png', dpi=100)
